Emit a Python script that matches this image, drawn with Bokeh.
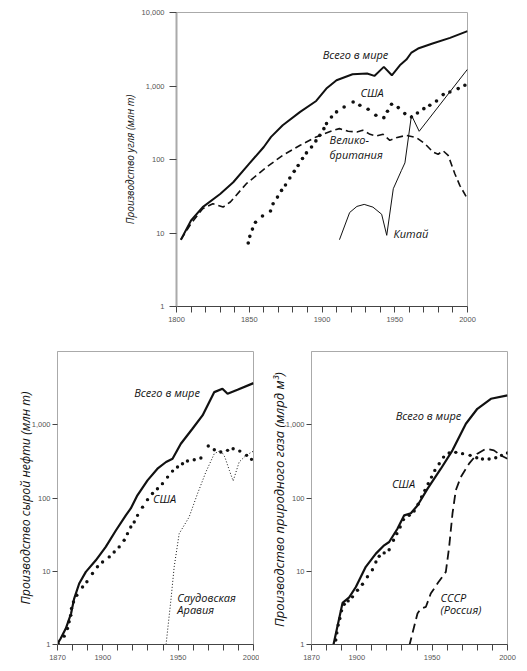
from bokeh.plotting import figure
from bokeh.layouts import column, row
from bokeh.models import FixedTicker, NumeralTickFormatter
from bokeh.core.properties import value
from bokeh.embed import file_html
from bokeh.resources import INLINE

# ---------------- Coal (top) ----------------
coal_world_year = [1803, 1810, 1818, 1830, 1839, 1850, 1860, 1865, 1873, 1885, 1896, 1903, 1910,
                   1921, 1931, 1936, 1942.5, 1948, 1953.5, 1958, 1961.5, 1966, 1976, 1988, 2000]
coal_world_val = [8.1, 14.8, 22.5, 34, 49, 88, 148, 203, 292, 444, 626, 922, 1197,
                  1445, 1476, 1372, 1820, 1400, 1915, 2290, 2853, 3235, 3785, 4520, 5570]

coal_usa_year = [1849.3, 1850.4, 1852.2, 1854.3, 1859.1, 1864.6, 1866.4, 1869.4, 1872.2, 1874.9,
                 1877.9, 1880.9, 1883.6, 1886.6, 1889.3, 1892.8, 1895.8, 1898.5, 1901.3, 1903.1,
                 1906.5, 1910, 1915.2, 1921.4, 1926, 1931.7, 1937, 1942.5, 1945, 1947.8, 1952.4,
                 1956.9, 1961.5, 1965.6, 1970, 1974.1, 1978.7, 1983.3, 1987.9, 1993.6, 1998.2]
coal_usa_val = [7.3, 9, 11.3, 14, 17, 19.9, 25, 30.8, 38, 45,
                56, 69, 83, 103, 123, 148, 179, 213, 263, 308,
                379, 444, 519, 607, 547, 482, 400, 371, 453, 564, 508,
                421, 379, 430, 492, 547, 626, 764, 830, 922, 1024]

coal_uk_year = [1803, 1810, 1818, 1825, 1832, 1837, 1848, 1862, 1873, 1885, 1896, 1908, 1912,
                1918, 1924, 1928, 1933, 1937.5, 1942, 1946.6, 1951, 1958, 1965, 1970.7, 1976.4,
                1979.8, 1983.3, 1986.7, 1991.3, 1994.7, 1999.3]
coal_uk_val = [8.1, 13.4, 21.4, 25, 22.5, 26.4, 46.9, 79, 114, 156, 203, 250, 263,
               242, 237, 250, 220, 209, 220, 182, 198, 213, 198, 164, 126,
               118, 131, 114, 64, 44.5, 30.8]

coal_china_year = [1912, 1919, 1924, 1929, 1935, 1941, 1944.5, 1949, 1954.6, 1957, 1961.5, 1966.8, 2000]
coal_china_val = [8.1, 19, 23, 24.5, 22.5, 18, 9.3, 40, 71, 90, 400, 242, 1690]

# ---------------- Oil (bottom left) ----------------
oil_world_year = [1869, 1872, 1875.5, 1879, 1881, 1884.4, 1888.8, 1895.4, 1902, 1908.7, 1915.3,
                  1918.6, 1923, 1929.7, 1936.3, 1942, 1946.3, 1951.8, 1959.5, 1966.2, 1974,
                  1979.4, 1982.8, 1989.4, 2000]
oil_world_val = [0.95, 1.2, 1.65, 2.65, 4.2, 6.8, 9.8, 14.1, 21.5, 36, 58,
                 72, 109, 174, 251, 310, 344, 550, 881, 1340, 2790,
                 3100, 2650, 3000, 3700]

oil_usa_year = [1868, 1870.4, 1874.4, 1876.6, 1877.7, 1878.8, 1879.3, 1880.6, 1882.8, 1886.6,
                1889.5, 1893.2, 1896.5, 1899.9, 1904.3, 1907.6, 1910.9, 1914.2, 1916.4, 1918.6,
                1920.9, 1923.1, 1926.4, 1929.7, 1933, 1936.3, 1939.6, 1943, 1946.3, 1949.6,
                1952.9, 1956.2, 1960.7, 1965.1, 1970, 1974, 1978.3, 1982.8, 1986.5, 1990.9,
                1995.4, 1998.7]
oil_usa_val = [0.97, 1.03, 1.3, 1.65, 2.04, 2.5, 3.1, 3.8, 4.7, 6.1,
               7.2, 9.3, 11.5, 13.4, 15.7, 18.3, 21.5, 26.5, 32.6, 40.2,
               47, 58, 75, 95, 115, 134, 157, 193, 233, 265,
               294, 320, 333, 351, 512, 456, 424, 447, 471, 437,
               382, 337]

oil_saudi_year = [1942, 1945.2, 1947.4, 1950.7, 1957.3, 1962.9, 1968.4, 1974, 1978.3, 1981,
                  1984, 1986.5, 1990.5, 1995, 2000]
oil_saudi_val = [1.0, 4.0, 11.5, 32.6, 55, 115, 226, 403, 447, 362,
                 238, 171, 310, 382, 437]

# ---------------- Gas (bottom right) ----------------
gas_world_year = [1884.6, 1890.6, 1895, 1899.4, 1906, 1912.7, 1918.2, 1921.5, 1927, 1931.5,
                  1935.9, 1940.3, 1947, 1955.8, 1963.5, 1972.4, 1980, 1989, 2000]
gas_world_val = [1.0, 3.7, 4.4, 6.1, 11.5, 17.4, 22.6, 25.1, 38, 58,
                 62, 79, 134, 251, 447, 1032, 1652, 2263, 2512]

gas_usa_year = [1885.5, 1886.1, 1886.8, 1887.7, 1888.8, 1889.9, 1891.7, 1894.3, 1897.2, 1900.5,
                1903.8, 1907.1, 1910.4, 1912.7, 1914.9, 1918.2, 1921.5, 1924.4, 1926.6, 1928.8,
                1931, 1934.8, 1938.1, 1940.7, 1943, 1945.2, 1947.4, 1949.6, 1951.8, 1954.7,
                1957.6, 1961.3, 1965.7, 1970.2, 1975.2, 1979.6, 1983.4, 1987.8, 1992.2, 1996,
                2000]
gas_usa_val = [0.91, 1.15, 1.44, 1.84, 2.26, 2.88, 3.55, 3.94, 4.47, 5.5,
               6.65, 8.4, 10.5, 13.4, 16, 17.8, 19.7, 26.5, 32.6, 40.2,
               50.7, 58, 66.5, 82, 103, 127, 157, 193, 238, 294,
               362, 411, 420, 403, 382, 355, 340, 340, 355, 382,
               411]

gas_ussr_year = [1934.8, 1940.3, 1942.6, 1945.9, 1949.1, 1954, 1959.1, 1961.3, 1963.5, 1965.7,
                 1969, 1974.5, 1980, 1985.6, 1991, 1995.6, 2000]
gas_ussr_val = [0.95, 2.65, 3.1, 3.27, 4.96, 7.0, 9.8, 21.5, 61, 127,
                193, 294, 403, 471, 447, 382, 344]

# ---------------- Axis ticks / labels ----------------
coal_x_ticks = list(range(1800, 2001, 10))
coal_x_labels = [1800, 1850, 1900, 1950, 2000]
bottom_x_ticks = list(range(1870, 2001, 10))
bottom_x_labels = [1870, 1900, 1950, 2000]
top_y_ticks = [1, 10, 100, 1000, 10000]
bottom_y_ticks = [1, 10, 100, 1000]

# annotation texts and their anchor (x year, y value)
coal_notes = [("Всего в мире", 1923, 2710, "center"), ("США", 1934.4, 805, "center"),
              ("Велико-", 1905.2, 187, "left"), ("британия", 1905.2, 118, "left"),
              ("Китай", 1949.2, 10, "left")]
oil_notes = [("Всего в мире", 1942.7, 2754, "center"), ("США", 1941, 99, "center"),
             ("Саудовская", 1949.5, 4.44, "left"), ("Аравия", 1949.5, 3.0, "left")]
gas_notes = [("Всего в мире", 1947.6, 1340, "center"), ("США", 1931, 158, "center"),
             ("СССР", 1955.6, 4.4, "left"), ("(Россия)", 1955.6, 3.0, "left")]

TICK_FONT = "Liberation Sans"
NOTE_FONT = "Open Sans"


def make_fig(w, h, bl, br, bt, bb, xr, xticks, xlabels, yticks, ylabel, ylabel_size,
             ylabel_standoff, left_w, ytick_out, ylab_standoff):
    p = figure(width=w, height=h, x_range=xr, y_range=(1, 10000), y_axis_type="log",
               output_backend="svg", toolbar_location=None,
               min_border_left=bl, min_border_right=br, min_border_top=bt, min_border_bottom=bb)
    p.grid.visible = False
    p.outline_line_color = "#aaaaaa"
    p.outline_line_width = 1
    p.background_fill_color = "white"
    p.border_fill_color = "white"

    xa = p.xaxis[0]
    xa.ticker = FixedTicker(ticks=xticks)
    xa.major_label_overrides = {t: (str(t) if t in xlabels else "") for t in xticks}
    xa.minor_tick_line_color = None
    xa.major_tick_in = 0
    xa.major_tick_out = 6
    xa.major_tick_line_color = "#444444"
    xa.axis_line_color = "#444444"
    xa.major_label_text_font = TICK_FONT
    xa.major_label_text_font_size = "7.5px"
    xa.major_label_text_color = "#555555"
    xa.major_label_standoff = 4

    ya = p.yaxis[0]
    ya.ticker = FixedTicker(ticks=yticks)
    ya.formatter = NumeralTickFormatter(format="0,0")
    ya.minor_tick_line_color = None
    ya.major_tick_in = 0
    ya.major_tick_out = ytick_out
    ya.major_tick_line_color = "#444444"
    ya.axis_line_color = "#aaaaaa"
    ya.axis_line_width = left_w
    ya.major_label_text_font = TICK_FONT
    ya.major_label_text_font_size = "7.5px"
    ya.major_label_text_color = "#555555"
    ya.major_label_standoff = ylab_standoff
    ya.axis_label = ylabel
    ya.axis_label_text_font = NOTE_FONT
    ya.axis_label_text_font_style = "italic"
    ya.axis_label_text_font_size = ylabel_size
    ya.axis_label_text_color = "#111111"
    ya.axis_label_standoff = ylabel_standoff
    return p


def add_notes(p, notes):
    for txt, x, y, align in notes:
        p.text(x=[x], y=[y], text=[txt], text_align=align, text_baseline="middle",
               text_font=value(NOTE_FONT), text_font_style="italic", text_font_size="11px",
               text_color="#111111")


# Top: coal
p1 = make_fig(487, 326, 176, 20, 12, 20, (1800, 2000), coal_x_ticks, coal_x_labels, top_y_ticks,
              "Производство угля (млн т)", "10px", 2, 2, 7, 5)
p1.line(coal_china_year, coal_china_val, line_color="#111111", line_width=1)
p1.line(coal_uk_year, coal_uk_val, line_color="#111111", line_width=1.6, line_dash="7 4")
p1.line(coal_world_year, coal_world_val, line_color="#111111", line_width=2)
p1.scatter(coal_usa_year, coal_usa_val, marker="circle", size=3.6, fill_color="#111111",
           line_color=None)
add_notes(p1, coal_notes)

# Bottom left: oil
p2 = make_fig(259, 338, 57, 6, 25, 20, (1870, 2000), bottom_x_ticks, bottom_x_labels,
              bottom_y_ticks, "Производство сырой нефти (млн т)", "12.3px", -5, 1, 5, 2)
p2.line(oil_saudi_year, oil_saudi_val, line_color="#111111", line_width=1, line_dash="1 2")
p2.line(oil_world_year, oil_world_val, line_color="#111111", line_width=2.2)
p2.scatter(oil_usa_year, oil_usa_val, marker="circle", size=3.4, fill_color="#111111",
           line_color=None)
add_notes(p2, oil_notes)

# Bottom right: gas
p3 = make_fig(260, 338, 52, 12, 25, 20, (1870, 2000), bottom_x_ticks, bottom_x_labels,
              bottom_y_ticks, "Производство природного газа  (млрд м³)", "13px", -5, 1, 5, 2)
p3.line(gas_ussr_year, gas_ussr_val, line_color="#111111", line_width=1.8, line_dash="9 5")
p3.line(gas_world_year, gas_world_val, line_color="#111111", line_width=2.2)
p3.scatter(gas_usa_year, gas_usa_val, marker="circle", size=3.4, fill_color="#111111",
           line_color=None)
add_notes(p3, gas_notes)

layout = column(p1, row(p2, p3))
open("out.html", "w").write(file_html(layout, INLINE))
